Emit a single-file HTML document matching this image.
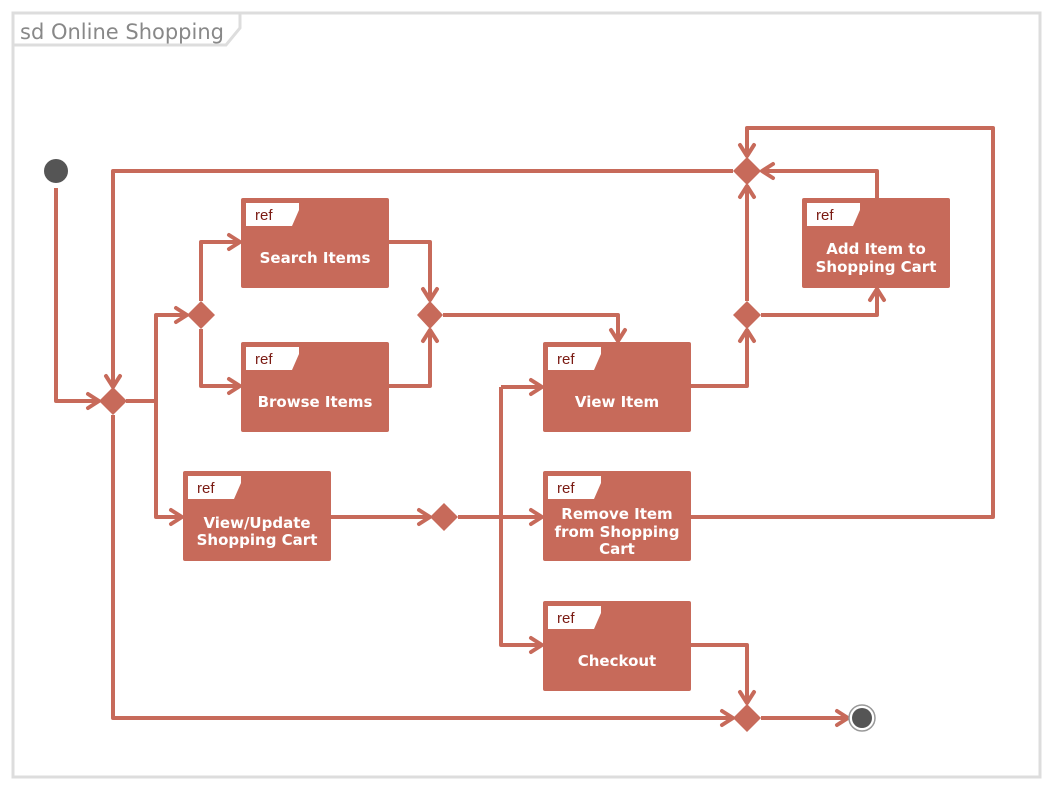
<!DOCTYPE html>
<html><head><meta charset="utf-8"><style>
body{margin:0;background:#fff;}
svg{display:block;}
.b{fill:#c76a5a;}
.l{fill:none;stroke:#c76a5a;stroke-width:4;stroke-linejoin:round;}
.t{font-family:"DejaVu Sans","Liberation Sans",sans-serif;font-weight:bold;font-size:15px;fill:#fff;text-anchor:middle;}
.r{font-family:"Liberation Sans",sans-serif;font-size:15px;fill:#7a1a12;}
</style></head><body>
<svg width="1050" height="790" viewBox="0 0 1050 790">
<defs>
<marker id="a" markerUnits="userSpaceOnUse" markerWidth="30" markerHeight="30" refX="14" refY="15" orient="auto">
<path d="M3,8 L14,15 L3,22" fill="none" stroke="#c76a5a" stroke-width="4" stroke-linecap="round" stroke-linejoin="round"/>
</marker>
</defs>
<rect x="13" y="13" width="1027" height="764" fill="none" stroke="#ddd" stroke-width="3"/>
<polygon points="13,13 240,13 240,28 226,45 13,45" fill="#fff" stroke="#ddd" stroke-width="3"/>
<text x="20" y="39" font-family="'DejaVu Sans','Liberation Sans',sans-serif" font-size="21" fill="#888">sd Online Shopping</text>

<polyline class="l" points="56,188 56,401 99,401" marker-end="url(#a)"/>
<polyline class="l" points="733,171 113,171 113,387" marker-end="url(#a)"/>
<polyline class="l" points="126,401 156,401"/>
<polyline class="l" points="156,401 156,517 182,517" marker-end="url(#a)"/>
<polyline class="l" points="156,401 156,315 187,315" marker-end="url(#a)"/>
<polyline class="l" points="201,301 201,242 240,242" marker-end="url(#a)"/>
<polyline class="l" points="201,329 201,386 240,386" marker-end="url(#a)"/>
<polyline class="l" points="389,242 430,242 430,300" marker-end="url(#a)"/>
<polyline class="l" points="389,386 430,386 430,330" marker-end="url(#a)"/>
<polyline class="l" points="443,315 618,315 618,341" marker-end="url(#a)"/>
<polyline class="l" points="331,517 430,517" marker-end="url(#a)"/>
<polyline class="l" points="458,517 542,517" marker-end="url(#a)"/>
<polyline class="l" points="501,387 501,645 542,645" marker-end="url(#a)"/>
<polyline class="l" points="501,387 542,387" marker-end="url(#a)"/>
<polyline class="l" points="691,386 747,386 747,330" marker-end="url(#a)"/>
<polyline class="l" points="747,301 747,186" marker-end="url(#a)"/>
<polyline class="l" points="761,315 877,315 877,289" marker-end="url(#a)"/>
<polyline class="l" points="877,198 877,171 762,171" marker-end="url(#a)"/>
<polyline class="l" points="691,517 993,517 993,128 747,128 747,156" marker-end="url(#a)"/>
<polyline class="l" points="113,415 113,718 733,718" marker-end="url(#a)"/>
<polyline class="l" points="691,645 747,645 747,703" marker-end="url(#a)"/>
<polyline class="l" points="761,718 848,718" marker-end="url(#a)"/>

<g class="b">
<polygon points="113,387 127,401 113,415 99,401"/>
<polygon points="201,301 215,315 201,329 187,315"/>
<polygon points="430,301 443,315 430,329 417,315"/>
<polygon points="444,503 458,517 444,531 430,517"/>
<polygon points="747,157 761,171 747,185 733,171"/>
<polygon points="747,301 761,315 747,329 733,315"/>
<polygon points="747,704 761,718 747,732 733,718"/>
</g>

<circle cx="56" cy="171" r="12" fill="#555"/>
<circle cx="862" cy="718" r="13" fill="#fff" stroke="#999" stroke-width="1.5"/>
<circle cx="862" cy="718" r="10" fill="#555"/>

<g>
<rect class="b" x="241" y="198" width="148" height="90" rx="2"/>
<polygon points="246,203 299,203 299,210 292,226 246,226" fill="#fff"/>
<text class="r" x="255" y="220">ref</text>
<text class="t" x="315" y="263">Search Items</text>

<rect class="b" x="241" y="342" width="148" height="90" rx="2"/>
<polygon points="246,347 299,347 299,354 292,370 246,370" fill="#fff"/>
<text class="r" x="255" y="364">ref</text>
<text class="t" x="315" y="407">Browse Items</text>

<rect class="b" x="183" y="471" width="148" height="90" rx="2"/>
<polygon points="188,476 241,476 241,483 234,499 188,499" fill="#fff"/>
<text class="r" x="197" y="493">ref</text>
<text class="t" x="257" y="528">View/Update</text>
<text class="t" x="257" y="545">Shopping Cart</text>

<rect class="b" x="543" y="342" width="148" height="90" rx="2"/>
<polygon points="548,347 601,347 601,354 594,370 548,370" fill="#fff"/>
<text class="r" x="557" y="364">ref</text>
<text class="t" x="617" y="407">View Item</text>

<rect class="b" x="543" y="471" width="148" height="90" rx="2"/>
<polygon points="548,476 601,476 601,483 594,499 548,499" fill="#fff"/>
<text class="r" x="557" y="493">ref</text>
<text class="t" x="617" y="519">Remove Item</text>
<text class="t" x="617" y="537">from Shopping</text>
<text class="t" x="617" y="554">Cart</text>

<rect class="b" x="543" y="601" width="148" height="90" rx="2"/>
<polygon points="548,606 601,606 601,613 594,629 548,629" fill="#fff"/>
<text class="r" x="557" y="623">ref</text>
<text class="t" x="617" y="666">Checkout</text>

<rect class="b" x="802" y="198" width="148" height="90" rx="2"/>
<polygon points="807,203 860,203 860,210 853,226 807,226" fill="#fff"/>
<text class="r" x="816" y="220">ref</text>
<text class="t" x="876" y="254">Add Item to</text>
<text class="t" x="876" y="272">Shopping Cart</text>
</g>
</svg>
</body></html>
